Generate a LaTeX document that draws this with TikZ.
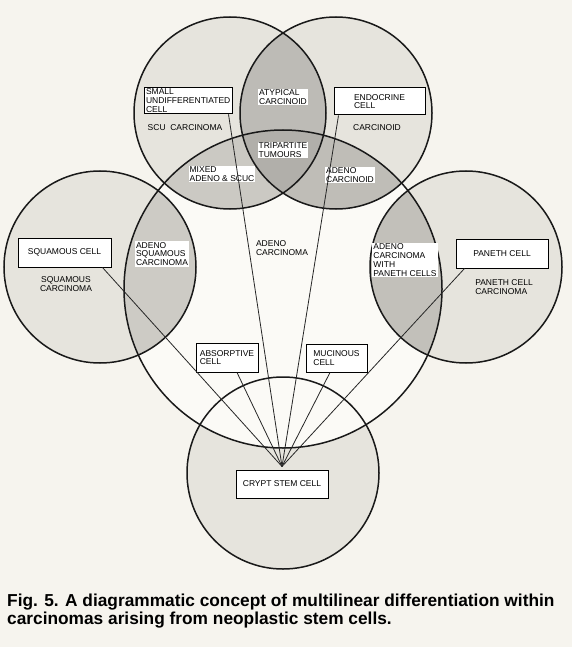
\documentclass[tikz,border=0pt]{standalone}
\usepackage{fontspec}
\setmainfont{Liberation Sans}
\newcommand\lbl{\fontsize{8.5}{8.8}\selectfont}
\definecolor{bgc}{HTML}{F6F4EE}
\definecolor{lightc}{HTML}{E6E4DD}
\definecolor{whitec}{HTML}{FBFAF6}
\definecolor{atyp}{HTML}{BDBBB6}
\definecolor{trip}{HTML}{B1AFAA}
\definecolor{mixc}{HTML}{CBC9C3}
\definecolor{adcarc}{HTML}{BFBDB7}
\definecolor{adsq}{HTML}{CDCBC5}
\definecolor{adpan}{HTML}{C2C0BA}
\begin{document}
\begin{tikzpicture}[x=1pt,y=-1pt,
  ring/.style={draw=black!90,line width=1.5pt},
  spoke/.style={draw=black!85,line width=0.8pt},
  cellbox/.style={draw=black,line width=1pt,fill=white,inner sep=1.5pt,font=\lbl,align=left},
  lab/.style={font=\lbl,align=left,inner sep=1pt},
  wlab/.style={lab,fill=white}]
\useasboundingbox (0,0) rectangle (572,647);
\fill[bgc] (0,0) rectangle (572,647);
\def\cTL{(230,113) circle[radius=96pt]}
\def\cTR{(336,113) circle[radius=96pt]}
\def\cL{(100,267) circle[radius=96pt]}
\def\cR{(466,267) circle[radius=96pt]}
\def\cB{(283,473) circle[radius=96pt]}
\def\cBig{(283,289) circle[radius=159pt]}
% base fills
\fill[lightc] \cTL; \fill[lightc] \cTR; \fill[lightc] \cL; \fill[lightc] \cR; \fill[lightc] \cB;
\fill[whitec] \cBig;
% lenses
\begin{scope}\clip \cTL; \fill[atyp] \cTR; \end{scope}
\begin{scope}\clip \cTL; \fill[mixc] \cBig; \end{scope}
\begin{scope}\clip \cTR; \fill[adcarc] \cBig; \end{scope}
\begin{scope}\clip \cTL; \clip \cTR; \fill[trip] \cBig; \end{scope}
\begin{scope}\clip \cL; \fill[adsq] \cBig; \end{scope}
\begin{scope}\clip \cR; \fill[adpan] \cBig; \end{scope}
% outlines
\draw[ring] \cTL; \draw[ring] \cTR; \draw[ring] \cL; \draw[ring] \cR; \draw[ring] \cB; \draw[ring] \cBig;
% boxed cells
\node[cellbox,minimum width=88pt,minimum height=25pt,text width=84pt] (scu) at (188,100.5) {SMALL\\UNDIFFERENTIATED\\CELL};
\node[cellbox,minimum width=91pt,minimum height=27pt] (endo) at (379.5,101.5) {ENDOCRINE\\CELL};
\node[cellbox,minimum width=93pt,minimum height=29pt] (squam) at (64.5,252.5) {SQUAMOUS CELL};
\node[cellbox,minimum width=92pt,minimum height=29pt] (paneth) at (502,253.5) {PANETH CELL};
\node[cellbox,minimum width=62pt,minimum height=29pt] (absorp) at (227,357.5) {ABSORPTIVE\\CELL};
\node[cellbox,minimum width=61pt,minimum height=28pt] (mucin) at (336.5,358) {MUCINOUS\\CELL};
\node[cellbox,minimum width=92pt,minimum height=28pt] (crypt) at (282,484) {CRYPT STEM CELL};
\coordinate (hub) at ([yshift=3pt]crypt.north);
% unboxed labels (white backed)
\node[wlab] (atypl) at (283,97) {ATYPICAL\\CARCINOID};
\node[wlab] (tripl) at (283,150) {TRIPARTITE\\TUMOURS};
\node[wlab] (mixl) at (222,174) {MIXED\\ADENO \& SCUC};
\node[wlab] (adcl) at (350,175) {ADENO\\CARCINOID};
\node[wlab] (adsql) at (162,254) {ADENO\\SQUAMOUS\\CARCINOMA};
\node[wlab] (adpl) at (405,260) {ADENO\\CARCINOMA\\WITH\\PANETH CELLS};
% spokes
\draw[spoke] (hub) -- ([xshift=-9pt]squam.south east);
\draw[spoke] (hub) -- ([xshift=10pt]absorp.south);
\draw[spoke] (hub) -- ([xshift=-4pt]scu.south east);
\draw[spoke] (hub) -- ([xshift=5pt]endo.south west);
\draw[spoke] (hub) -- ([xshift=-6.5pt]mucin.south);
\draw[spoke] (hub) -- ([xshift=9pt]paneth.south west);
% plain labels
\node[lab] (scul) at (185,128) {SCU\ \ CARCINOMA};
\node[lab] (carcl) at (377,128) {CARCINOID};
\node[lab,align=center] (sqcl) at (66,284) {SQUAMOUS\\CARCINOMA};
\node[lab] (adl) at (282,248) {ADENO\\CARCINOMA};
\node[lab] (pcl) at (504,287) {PANETH CELL\\CARCINOMA};
% caption
\node[anchor=north west,align=left,inner sep=0pt,font=\fontsize{17.3}{17.8}\selectfont\bfseries] (cap) at (7,594)
 {Fig. 5. A diagrammatic concept of multilinear differentiation within\\carcinomas arising from neoplastic stem cells.};
\end{tikzpicture}
\end{document}
